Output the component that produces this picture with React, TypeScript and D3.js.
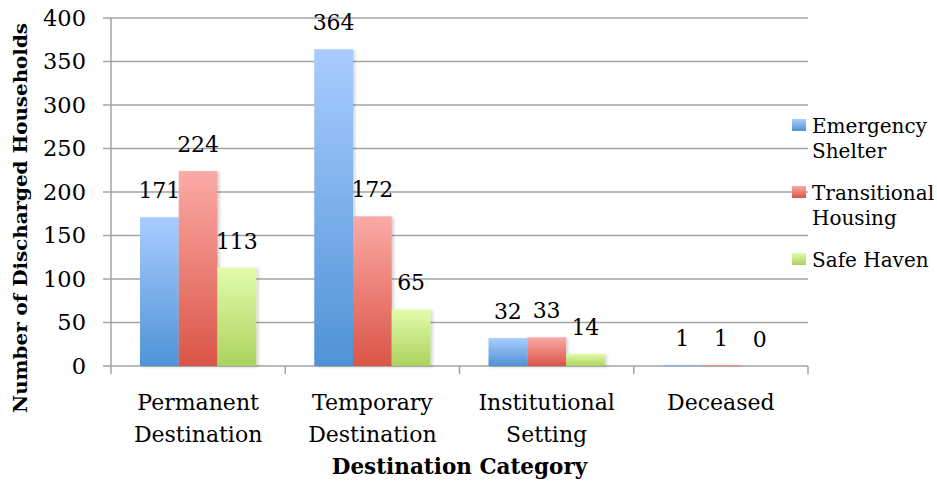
import { scaleBand, scaleLinear } from "d3";

const categories = ["Permanent Destination", "Temporary Destination", "Institutional Setting", "Deceased"];
const categoryLines = [["Permanent", "Destination"], ["Temporary", "Destination"], ["Institutional", "Setting"], ["Deceased"]];
const seriesNames = ["Emergency Shelter", "Transitional Housing", "Safe Haven"];
const legendLines = [["Emergency", "Shelter"], ["Transitional", "Housing"], ["Safe Haven"]];
const emergencyShelter = [171, 364, 32, 1];
const transitionalHousing = [224, 172, 33, 1];
const safeHaven = [113, 65, 14, 0];
const yTicks = [0, 50, 100, 150, 200, 250, 300, 350, 400];

const seriesValues = [emergencyShelter, transitionalHousing, safeHaven];
const gradients = [
  ["#a9ccff", "#4f93d6"],
  ["#fbaaa6", "#da5547"],
  ["#e2fcab", "#acd25e"],
];

const W = 937;
const H = 481;
const FONT = "'DejaVu Serif', serif";

export default function App() {
  const left = 111;
  const right = 808;
  const top = 18;
  const bottom = 366;

  const x = scaleBand<string>().domain(categories).range([left, right]);
  const inner = scaleBand<string>()
    .domain(seriesNames)
    .range([29, x.bandwidth() - 29]);
  const y = scaleLinear().domain([0, 400]).range([bottom, top]);

  const boundaries = [...categories.map((c) => x(c) ?? 0), right];

  return (
    <div>
      <style>{`body{margin:0}`}</style>
      <svg width={W} height={H} style={{ display: "block", fontFamily: FONT }}>
        <defs>
          {gradients.map((g, i) => (
            <linearGradient key={i} id={`grad${i}`} x1="0" x2="0" y1="0" y2="1">
              <stop offset="0%" stopColor={g[0]} />
              <stop offset="100%" stopColor={g[1]} />
            </linearGradient>
          ))}
          <filter id="shadow" x="-20%" y="-20%" width="140%" height="140%">
            <feDropShadow dx="2" dy="1" stdDeviation="1.5" floodColor="#000" floodOpacity="0.18" />
          </filter>
        </defs>

        {/* Gridlines and y ticks */}
        {yTicks.map((t) => (
          <g key={t}>
            <line x1={left - 8} x2={right} y1={y(t)} y2={y(t)} stroke="#a3a3a3" strokeWidth={1.5} />
            <text x={86} y={y(t)} dy="0.35em" textAnchor="end" fontSize={22.5} fill="#000">
              {t}
            </text>
          </g>
        ))}

        {/* Y axis line */}
        <line x1={left} x2={left} y1={top} y2={bottom} stroke="#a3a3a3" strokeWidth={1.5} />

        {/* Category ticks */}
        {boundaries.map((b, i) => (
          <line key={i} x1={b} x2={b} y1={bottom} y2={bottom + 8} stroke="#a3a3a3" strokeWidth={1.5} />
        ))}

        {/* Bars */}
        {categories.map((c, ci) => (
          <g key={c} transform={`translate(${x(c)},0)`}>
            {seriesNames.map((s, si) => {
              const v = seriesValues[si][ci];
              const bx = inner(s) ?? 0;
              const bw = inner.bandwidth();
              return (
                <g key={s}>
                  {v > 0 && (
                    <rect
                      x={bx}
                      y={y(v)}
                      width={bw}
                      height={bottom - y(v)}
                      fill={`url(#grad${si})`}
                      filter="url(#shadow)"
                    />
                  )}
                  <text x={bx + bw / 2} y={y(v) - 19} textAnchor="middle" fontSize={22} fill="#000">
                    {v}
                  </text>
                </g>
              );
            })}
          </g>
        ))}

        {/* Category labels */}
        {categories.map((c, ci) => (
          <text key={c} textAnchor="middle" fontSize={22} fill="#000">
            {categoryLines[ci].map((ln, li) => (
              <tspan key={li} x={(x(c) ?? 0) + x.bandwidth() / 2} y={410 + li * 32}>
                {ln}
              </tspan>
            ))}
          </text>
        ))}

        {/* Axis titles */}
        <text x={(left + right) / 2} y={474} textAnchor="middle" fontSize={21.5} fontWeight="bold" fill="#000">
          Destination Category
        </text>
        <text
          transform={`translate(27,218) rotate(-90)`}
          textAnchor="middle"
          fontSize={19}
          fontWeight="bold"
          fill="#000"
          textLength={390}
          lengthAdjust="spacingAndGlyphs"
        >
          Number of Discharged Households
        </text>

        {/* Legend */}
        {seriesNames.map((s, si) => {
          const ly = [119, 186, 253][si];
          return (
            <g key={s}>
              <rect x={792} y={ly} width={14} height={12} fill={`url(#grad${si})`} />
              <text fontSize={20} fill="#000">
                {legendLines[si].map((ln, li) => (
                  <tspan key={li} x={812} y={ly + 14 + li * 25}>
                    {ln}
                  </tspan>
                ))}
              </text>
            </g>
          );
        })}
      </svg>
    </div>
  );
}
